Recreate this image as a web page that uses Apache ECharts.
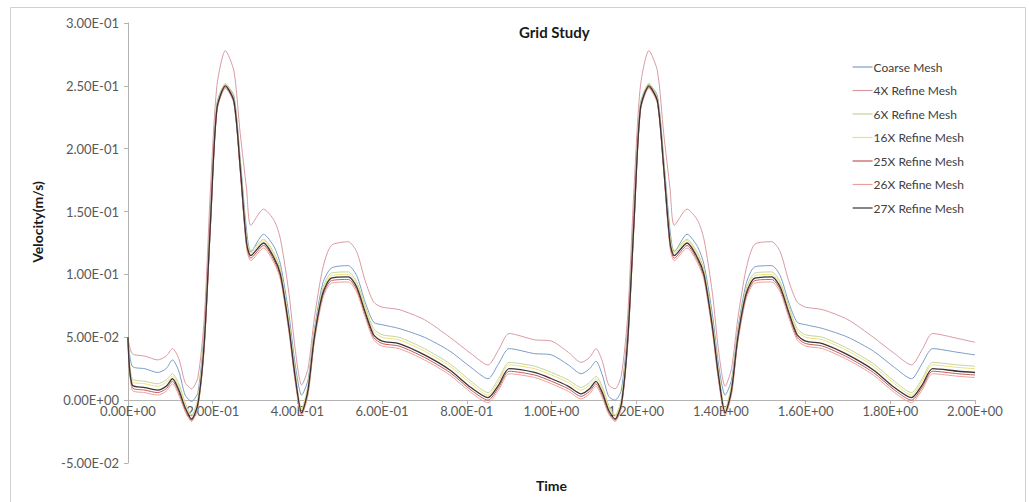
<!DOCTYPE html>
<html>
<head>
<meta charset="utf-8">
<script src="https://cdn.jsdelivr.net/npm/echarts@6/dist/echarts.min.js"></script>
<style>
  html, body { margin: 0; padding: 0; background: #fff; }
  #chart { width: 1029px; height: 502px; }
</style>
</head>
<body>
<div id="chart"></div>
<script>
// time points (s)
var times = [
  0, 0.01, 0.04, 0.07, 0.09, 0.105, 0.12, 0.135, 0.15, 0.165, 0.18, 0.195, 0.21, 0.23, 0.25, 0.265, 0.28, 0.29, 0.32, 0.345,
  0.36, 0.38, 0.395, 0.41, 0.425, 0.44, 0.46, 0.48, 0.52, 0.54, 0.56, 0.58, 0.6, 0.64, 0.7, 0.76, 0.81, 0.85, 0.875, 0.9, 0.96,
  1.0, 1.04, 1.07, 1.09, 1.105, 1.12, 1.135, 1.15, 1.165, 1.18, 1.195, 1.21, 1.23, 1.25, 1.265, 1.28, 1.29, 1.32, 1.345,
  1.36, 1.38, 1.395, 1.41, 1.425, 1.44, 1.46, 1.48, 1.52, 1.54, 1.56, 1.58, 1.6, 1.64, 1.7, 1.76, 1.81, 1.85, 1.875, 1.9, 1.96, 2.0
];

var coarseMesh = [
  0.050, 0.027, 0.025, 0.022, 0.025, 0.032, 0.023, 0.004, -0.001, 0.006, 0.055, 0.155, 0.236, 0.251, 0.242, 0.192, 0.135, 0.118, 0.132, 0.122,
  0.108, 0.068, 0.028, 0.004, 0.016, 0.056, 0.093, 0.105, 0.107, 0.099, 0.078, 0.062, 0.060, 0.057, 0.050, 0.039, 0.026, 0.017, 0.029, 0.041, 0.037,
  0.036, 0.028, 0.021, 0.025, 0.031, 0.020, 0.003, 0.000, 0.008, 0.058, 0.155, 0.236, 0.251, 0.242, 0.192, 0.135, 0.118, 0.132, 0.122,
  0.108, 0.068, 0.027, 0.004, 0.016, 0.056, 0.093, 0.106, 0.107, 0.099, 0.078, 0.062, 0.060, 0.057, 0.050, 0.039, 0.026, 0.017, 0.029, 0.041, 0.038, 0.036
];
var refine4x = [
  0.050, 0.037, 0.035, 0.032, 0.035, 0.041, 0.033, 0.014, 0.009, 0.018, 0.065, 0.170, 0.250, 0.278, 0.262, 0.212, 0.168, 0.139, 0.152, 0.143,
  0.128, 0.085, 0.040, 0.012, 0.025, 0.065, 0.105, 0.123, 0.126, 0.118, 0.095, 0.078, 0.074, 0.072, 0.064, 0.050, 0.037, 0.028, 0.040, 0.053, 0.048,
  0.047, 0.038, 0.030, 0.034, 0.041, 0.031, 0.012, 0.009, 0.020, 0.068, 0.170, 0.250, 0.278, 0.262, 0.212, 0.168, 0.139, 0.152, 0.143,
  0.128, 0.085, 0.038, 0.011, 0.025, 0.065, 0.105, 0.124, 0.126, 0.118, 0.095, 0.078, 0.074, 0.072, 0.064, 0.050, 0.037, 0.028, 0.040, 0.053, 0.049, 0.046
];
var refine6x = [
  0.050, 0.017, 0.015, 0.013, 0.016, 0.021, 0.013, -0.002, -0.012, 0.001, 0.050, 0.146, 0.234, 0.252, 0.240, 0.188, 0.129, 0.119, 0.128, 0.117,
  0.104, 0.063, 0.022, -0.007, 0.012, 0.054, 0.089, 0.101, 0.102, 0.094, 0.075, 0.057, 0.052, 0.050, 0.041, 0.029, 0.015, 0.006, 0.017, 0.030, 0.027,
  0.022, 0.016, 0.010, 0.014, 0.019, 0.011, -0.004, -0.012, 0.001, 0.053, 0.146, 0.234, 0.252, 0.240, 0.188, 0.129, 0.119, 0.128, 0.117,
  0.104, 0.063, 0.022, -0.007, 0.012, 0.054, 0.089, 0.101, 0.102, 0.094, 0.075, 0.057, 0.052, 0.050, 0.041, 0.029, 0.015, 0.006, 0.017, 0.030, 0.028, 0.027
];
var refine16x = [
  0.050, 0.015, 0.013, 0.011, 0.014, 0.019, 0.011, -0.004, -0.013, -0.001, 0.048, 0.145, 0.233, 0.251, 0.239, 0.187, 0.127, 0.117, 0.127, 0.115,
  0.102, 0.061, 0.020, -0.008, 0.010, 0.052, 0.087, 0.099, 0.100, 0.092, 0.073, 0.055, 0.050, 0.048, 0.039, 0.027, 0.013, 0.004, 0.015, 0.028, 0.025,
  0.020, 0.014, 0.008, 0.012, 0.017, 0.009, -0.006, -0.013, -0.001, 0.051, 0.145, 0.233, 0.251, 0.239, 0.187, 0.127, 0.117, 0.127, 0.115,
  0.102, 0.061, 0.020, -0.008, 0.010, 0.052, 0.087, 0.099, 0.100, 0.092, 0.073, 0.055, 0.050, 0.048, 0.039, 0.027, 0.013, 0.004, 0.015, 0.028, 0.026, 0.025
];
var refine25x = [
  0.050, 0.010, 0.008, 0.006, 0.009, 0.015, 0.006, -0.008, -0.016, -0.005, 0.043, 0.141, 0.231, 0.249, 0.237, 0.183, 0.123, 0.113, 0.123, 0.111,
  0.098, 0.056, 0.016, -0.011, 0.006, 0.048, 0.083, 0.095, 0.096, 0.088, 0.068, 0.050, 0.045, 0.043, 0.034, 0.022, 0.008, 0.000, 0.010, 0.023, 0.020,
  0.015, 0.009, 0.003, 0.007, 0.013, 0.004, -0.010, -0.016, -0.005, 0.046, 0.141, 0.231, 0.249, 0.237, 0.183, 0.123, 0.113, 0.123, 0.111,
  0.098, 0.056, 0.016, -0.011, 0.006, 0.048, 0.083, 0.095, 0.096, 0.088, 0.068, 0.050, 0.045, 0.043, 0.034, 0.022, 0.008, 0.000, 0.010, 0.023, 0.021, 0.020
];
var refine26x = [
  0.050, 0.008, 0.006, 0.004, 0.007, 0.013, 0.004, -0.009, -0.017, -0.006, 0.041, 0.140, 0.230, 0.248, 0.236, 0.182, 0.121, 0.111, 0.121, 0.109,
  0.096, 0.054, 0.014, -0.012, 0.004, 0.046, 0.081, 0.093, 0.094, 0.086, 0.066, 0.048, 0.043, 0.041, 0.032, 0.020, 0.006, -0.002, 0.008, 0.021, 0.018,
  0.013, 0.007, 0.001, 0.005, 0.011, 0.002, -0.011, -0.017, -0.006, 0.044, 0.140, 0.230, 0.248, 0.236, 0.182, 0.121, 0.111, 0.121, 0.109,
  0.096, 0.054, 0.014, -0.012, 0.004, 0.046, 0.081, 0.093, 0.094, 0.086, 0.066, 0.048, 0.043, 0.041, 0.032, 0.020, 0.006, -0.002, 0.008, 0.021, 0.019, 0.018
];
var refine27x = [
  0.050, 0.012, 0.010, 0.008, 0.011, 0.017, 0.008, -0.006, -0.015, -0.003, 0.045, 0.143, 0.232, 0.250, 0.238, 0.185, 0.125, 0.115, 0.125, 0.113,
  0.100, 0.058, 0.018, -0.010, 0.008, 0.050, 0.085, 0.097, 0.098, 0.090, 0.070, 0.052, 0.047, 0.045, 0.036, 0.024, 0.010, 0.002, 0.012, 0.025, 0.022,
  0.017, 0.011, 0.005, 0.009, 0.015, 0.006, -0.008, -0.015, -0.003, 0.048, 0.143, 0.232, 0.250, 0.238, 0.185, 0.125, 0.115, 0.125, 0.113,
  0.100, 0.058, 0.018, -0.010, 0.008, 0.050, 0.085, 0.097, 0.098, 0.090, 0.070, 0.052, 0.047, 0.045, 0.036, 0.024, 0.010, 0.002, 0.012, 0.025, 0.023, 0.022
];

var seriesNames = ['Coarse Mesh', '4X Refine Mesh', '6X Refine Mesh', '16X Refine Mesh', '25X Refine Mesh', '26X Refine Mesh', '27X Refine Mesh'];
var seriesData = [coarseMesh, refine4x, refine6x, refine16x, refine25x, refine26x, refine27x];
var seriesColors = ['#7b9cc6', '#d99aa2', '#c3d49e', '#ece27a', '#c4595a', '#eba09c', '#3b3434'];

// Excel style 2.00E-01
function sci(v) {
  var s = Number(v).toExponential(2).split('e');
  var e = parseInt(s[1], 10);
  var ee = Math.abs(e) < 10 ? '0' + Math.abs(e) : '' + Math.abs(e);
  return s[0] + 'E' + (e < 0 ? '-' : '+') + ee;
}

var chart = echarts.init(document.getElementById('chart'), null, { renderer: 'svg' });

var series = seriesNames.map(function (name, i) {
  return {
    name: name,
    type: 'line',
    symbol: 'none',
    smooth: 0.25,
    lineStyle: { color: seriesColors[i], width: i === 6 ? 1.3 : 1 },
    itemStyle: { color: seriesColors[i] },
    data: times.map(function (t, k) { return [t, seriesData[i][k]]; })
  };
});

// plot area 23..463 px for -0.05..0.3, so the zero line sits 0.05/0.35 of 440 px above the bottom
var zeroShift = -440 * 0.05 / 0.35;

var option = {
  backgroundColor: '#fff',
  animation: false,
  textStyle: { fontFamily: 'Lato, "Open Sans", sans-serif' },
  title: {
    text: 'Grid Study',
    left: 519,
    top: 24,
    padding: 0,
    textStyle: { fontSize: 15, fontWeight: 'bold', color: '#1a1a1a', fontFamily: 'Lato, sans-serif' }
  },
  legend: {
    orient: 'vertical',
    left: 852,
    top: 61,
    padding: 0,
    itemWidth: 20,
    itemHeight: 12,
    itemGap: 11.5,
    data: seriesNames,
    itemStyle: { opacity: 0 },
    lineStyle: { width: 1.2 },
    textStyle: { fontSize: 12, color: '#404040', padding: [0, 0, 0, -4] }
  },
  grid: { left: 128, right: 54, top: 23, bottom: 39, outerBoundsMode: 'none', containLabel: false },
  xAxis: {
    type: 'value',
    min: 0,
    max: 2,
    interval: 0.2,
    offset: zeroShift,
    name: 'Time',
    nameLocation: 'middle',
    nameGap: 78,
    nameTextStyle: { fontSize: 14, fontWeight: 'bold', color: '#1a1a1a' },
    axisLine: { onZero: false, lineStyle: { color: '#b3b3b3', width: 1 } },
    axisTick: { show: true, length: 4, lineStyle: { color: '#b3b3b3' } },
    axisLabel: { formatter: sci, fontSize: 13, color: '#595959', margin: 4 },
    splitLine: { show: false }
  },
  yAxis: {
    type: 'value',
    min: -0.05,
    max: 0.3,
    interval: 0.05,
    axisLine: { show: true, onZero: false, lineStyle: { color: '#b3b3b3', width: 1 } },
    axisTick: { show: true, length: 4, lineStyle: { color: '#b3b3b3' } },
    axisLabel: { formatter: sci, fontSize: 13, color: '#595959', margin: 9 },
    splitLine: { show: false }
  },
  graphic: [
    {
      type: 'rect',
      shape: { x: 10.5, y: 7.5, width: 1015, height: 510 },
      style: { fill: 'none', stroke: '#d0d0d0', lineWidth: 1 },
      silent: true
    },
    {
      type: 'text',
      x: 37,
      y: 222,
      rotation: Math.PI / 2,
      style: {
        text: 'Velocity(m/s)',
        fontSize: 14,
        fontWeight: 'bold',
        fill: '#1a1a1a',
        fontFamily: 'Lato, sans-serif',
        align: 'center',
        verticalAlign: 'middle'
      }
    }
  ],
  series: series
};

chart.setOption(option);
</script>
</body>
</html>
